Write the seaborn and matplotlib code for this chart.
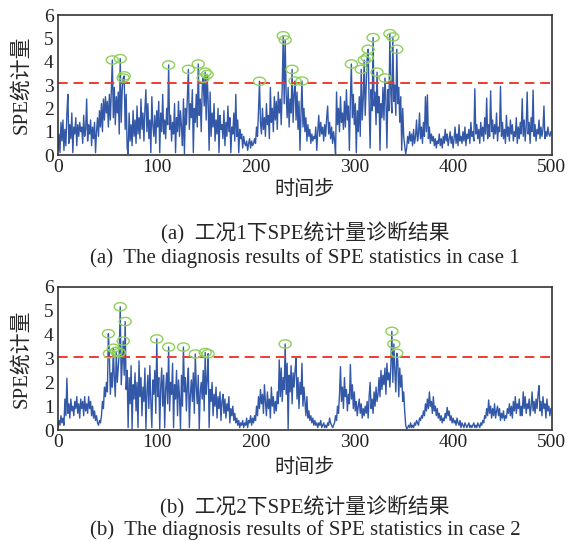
import numpy as np
import pandas as pd
import matplotlib
matplotlib.use("Agg")
import matplotlib.pyplot as plt
import seaborn as sns
from matplotlib.path import Path
from matplotlib.transforms import Affine2D

# SPE statistic, case 1 (steps 0..499)
spe_case1 = [
    0.2, 0.9, 0.1, 1.4, 0.6, 1.5, 0.2, 1.1, 0.4, 1.8,
    2.6, 0.5, 1.3, 0.7, 1.8, 0.1, 1.2, 0.9, 1.6, 0.4,
    1.3, 0.8, 1.4, 1.0, 1.2, 0.5, 1.7, 0.8, 1.1, 2.4,
    0.6, 1.3, 0.9, 1.5, 0.4, 1.2, 0.7, 1.4, 0.1, 1.0,
    1.6, 0.8, 1.9, 1.2, 2.2, 1.0, 2.4, 1.5, 2.5, 1.8,
    2.3, 1.2, 2.6, 1.5, 2.8, 4.07, 1.6, 2.9, 1.3, 2.5,
    1.8, 2.7, 0.9, 4.13, 1.4, 2.8, 3.3, 3.39, 1.1, 2.6,
    0.3, 0.05, 1.8, 0.6, 1.3, 0.4, 1.9, 0.8, 1.5, 0.5,
    2.1, 0.9, 1.6, 0.7, 2.4, 1.1, 1.8, 0.6, 2.0, 2.8,
    1.0, 2.2, 0.7, 1.5, 0.1, 2.5, 1.3, 0.8, 1.7, 0.5,
    1.9, 1.2, 2.3, 0.1, 1.8, 1.0, 2.6, 0.9, 1.5, 0.7,
    2.0, 1.3, 3.86, 1.1, 1.7, 0.6, 1.4, 0.9, 2.2, 0.1,
    1.6, 1.0, 2.3, 0.8, 1.9, 1.2, 0.4, 2.4, 0.05, 2.0,
    1.3, 2.5, 3.67, 1.1, 2.2, 1.6, 2.8, 0.1, 2.0, 1.4,
    2.6, 1.2, 3.9, 1.7, 2.4, 1.0, 2.9, 3.3, 2.1, 3.55,
    1.5, 3.45, 2.3, 0.2, 2.7, 0.8, 1.8, 1.2, 2.2, 0.6,
    1.5, 0.9, 2.0, 0.1, 1.7, 1.1, 1.3, 0.7, 1.9, 0.4,
    1.4, 0.8, 2.1, 1.0, 1.6, 0.1, 1.2, 0.9, 1.8, 0.6,
    2.6, 0.8, 1.5, 0.1, 1.1, 0.7, 0.9, 0.3, 0.8, 0.5,
    0.4, 0.6, 0.2, 0.5, 0.7, 0.3, 0.6, 0.4, 0.5, 0.7,
    0.5, 1.2, 0.8, 1.9, 3.16, 1.4, 0.9, 2.0, 1.1, 1.6,
    0.8, 2.2, 1.3, 1.7, 0.7, 2.9, 1.4, 2.0, 1.0, 2.5,
    1.5, 2.3, 1.1, 2.7, 1.8, 2.4, 1.3, 2.9, 5.11, 2.2,
    4.93, 2.6, 1.6, 2.9, 1.2, 2.4, 1.8, 3.67, 1.4, 2.6,
    3.17, 1.5, 2.7, 1.1, 2.3, 0.2, 1.8, 3.17, 1.2, 2.0,
    1.0, 1.6, 0.6, 1.3, 0.8, 1.1, 0.5, 0.9, 0.6, 0.8,
    0.7, 1.2, 0.2, 1.0, 1.7, 0.8, 1.4, 0.9, 1.2, 0.6,
    1.3, 0.8, 1.6, 2.1, 0.9, 1.4, 0.7, 1.2, 0.5, 1.0,
    0.6, 0.05, 2.7, 1.3, 2.0, 1.0, 2.5, 1.4, 1.8, 1.1,
    2.3, 1.2, 2.8, 1.5, 2.1, 0.2, 2.4, 3.9, 1.6, 2.6,
    1.3, 2.2, 0.1, 1.9, 1.0, 2.5, 0.8, 3.67, 1.5, 2.4,
    4.07, 1.7, 2.9, 4.17, 4.53, 2.2, 0.3, 2.8, 1.9, 5.03,
    2.1, 2.7, 1.3, 3.55, 1.8, 2.5, 0.2, 2.2, 1.6, 2.9,
    1.5, 3.3, 2.4, 0.3, 2.8, 1.9, 5.2, 2.6, 1.8, 5.06,
    2.3, 3.0, 1.7, 4.53, 2.2, 2.9, 1.4, 2.5, 0.2, 2.0,
    0.8, 0.4, 0.05, 0.3, 0.8, 0.5, 1.0, 0.6, 0.9, 0.4,
    1.1, 0.5, 0.8, 1.5, 0.6, 0.9, 1.8, 0.7, 1.2, 0.5,
    1.4, 0.8, 2.5, 1.0, 2.58, 0.7, 1.2, 0.5, 0.9, 0.6,
    0.8, 0.4, 0.7, 0.3, 0.6, 0.5, 0.9, 0.4, 0.7, 0.3,
    0.8, 0.5, 1.1, 0.6, 0.9, 0.4, 0.7, 1.0, 0.5, 0.8,
    0.3, 0.7, 1.2, 0.5, 0.9, 0.4, 1.3, 0.6, 0.8, 0.5,
    1.0, 0.6, 1.2, 0.4, 0.9, 0.7, 1.1, 0.5, 1.4, 0.8,
    1.0, 0.6, 2.84, 0.9, 1.3, 0.7, 1.1, 0.5, 1.4, 0.8,
    1.2, 0.6, 1.6, 0.9, 2.44, 0.7, 1.3, 0.8, 2.75, 1.0,
    1.5, 0.7, 1.3, 0.9, 1.8, 0.6, 1.2, 1.0, 2.94, 0.8,
    1.4, 0.7, 1.1, 0.5, 1.7, 0.8, 1.2, 0.6, 1.5, 0.9,
    1.3, 0.6, 1.0, 0.8, 1.6, 0.5, 1.2, 0.7, 1.4, 0.9,
    2.41, 0.8, 1.5, 0.6, 1.2, 2.7, 0.9, 1.4, 0.5, 1.6,
    1.0, 2.78, 0.8, 1.3, 0.6, 1.1, 0.9, 1.5, 0.7, 1.2,
    0.8, 1.1, 2.1, 0.7, 1.0, 0.8, 1.2, 0.9, 0.8, 1.0,
]

# SPE statistic, case 2
spe_case2 = [
    0.1, 0.4, 0.2, 0.6, 0.3, 0.5, 0.2, 1.3, 0.6, 2.17,
    0.7, 1.1, 0.5, 1.3, 0.8, 1.0, 0.6, 1.2, 0.9, 1.4,
    0.7, 1.1, 0.5, 1.3, 0.9, 1.2, 0.6, 1.4, 0.8, 1.1,
    0.7, 1.4, 0.9, 1.2, 0.6, 1.0, 0.5, 0.8, 0.4, 0.6,
    0.3, 0.2, 0.4, 0.3, 0.6, 1.2, 0.9, 1.8, 1.4, 2.0,
    1.6, 4.04, 3.2, 1.5, 2.4, 1.8, 3.43, 2.2, 1.4, 3.3,
    2.0, 2.6, 3.25, 5.17, 1.9, 2.8, 3.73, 2.3, 4.55, 1.7,
    2.5, 0.1, 2.2, 1.1, 2.7, 0.05, 1.9, 1.3, 2.4, 0.8,
    2.0, 0.1, 2.9, 1.4, 2.2, 0.6, 1.8, 1.2, 2.6, 0.05,
    1.6, 2.3, 0.9, 2.7, 1.2, 0.1, 2.1, 1.5, 2.5, 0.7,
    3.82, 1.4, 2.2, 0.05, 1.8, 2.6, 1.0, 2.3, 0.1, 1.7,
    2.4, 1.1, 3.48, 0.8, 2.0, 1.5, 2.8, 0.1, 1.9, 1.3,
    2.5, 0.6, 2.1, 1.4, 0.05, 2.3, 1.0, 3.48, 1.6, 2.2,
    0.8, 1.9, 2.6, 0.1, 1.5, 2.1, 1.2, 2.4, 0.7, 3.19,
    1.8, 1.1, 2.3, 0.05, 1.6, 2.0, 1.3, 2.5, 0.8, 3.25,
    1.5, 2.1, 3.2, 0.1, 1.7, 1.2, 2.0, 0.6, 1.5, 1.0,
    1.8, 0.5, 1.4, 0.9, 1.6, 0.4, 1.2, 1.5, 0.7, 1.3,
    0.5, 1.1, 0.8, 1.4, 0.3, 0.9, 0.6, 1.0, 0.4, 0.7,
    0.3, 0.5, 0.2, 0.4, 0.1, 0.3, 0.2, 0.4, 0.1, 0.3,
    0.2, 0.5, 0.1, 0.4, 0.3, 0.6, 0.2, 0.5, 0.3, 0.6,
    0.4, 1.0, 0.6, 1.4, 0.9, 1.7, 1.1, 1.5, 0.7, 1.9,
    1.2, 0.6, 1.6, 0.9, 1.3, 0.5, 1.8, 1.0, 1.4, 0.7,
    1.2, 0.8, 1.6, 1.1, 2.94, 1.4, 2.6, 1.2, 2.2, 1.7,
    3.61, 1.5, 2.8, 0.05, 2.3, 1.6, 2.7, 1.1, 2.4, 1.8,
    2.5, 3.0, 1.3, 2.2, 0.9, 2.0, 1.5, 2.8, 1.0, 1.8,
    1.2, 0.6, 1.4, 0.5, 0.8, 0.4, 0.6, 0.3, 0.5, 0.2,
    0.4, 0.2, 0.3, 0.1, 0.3, 0.2, 0.4, 0.1, 0.2, 0.3,
    0.1, 0.2, 0.1, 0.3, 0.2, 0.5, 0.3, 0.2, 0.1, 0.2,
    0.3, 0.6, 0.4, 1.0, 0.7, 1.5, 2.66, 1.2, 1.8, 0.9,
    2.2, 1.4, 1.7, 0.8, 1.5, 1.1, 2.75, 1.3, 1.9, 0.9,
    1.6, 0.8, 1.2, 0.6, 1.0, 1.3, 0.7, 1.1, 0.5, 0.9,
    0.6, 1.0, 0.7, 1.2, 0.5, 1.4, 2.0, 0.9, 1.3, 0.7,
    1.6, 1.0, 1.8, 1.2, 1.5, 2.2, 1.4, 2.5, 1.7, 2.3,
    1.9, 2.6, 1.5, 2.8, 2.1, 2.4, 1.8, 2.7, 4.14, 2.0,
    3.61, 2.5, 1.6, 3.22, 2.9, 1.4, 2.6, 1.8, 2.3, 1.2,
    1.6, 0.8, 0.2, 0.05, 0.1, 0.2, 0.1, 0.3, 0.1, 0.2,
    0.1, 0.3, 0.2, 0.4, 0.3, 0.2, 0.5, 0.4, 0.6, 0.5,
    0.8, 0.6, 1.1, 0.8, 1.3, 0.9, 1.6, 1.0, 1.2, 0.7,
    1.4, 0.8, 1.0, 0.6, 0.9, 0.5, 0.7, 0.4, 0.6, 0.3,
    0.5, 0.4, 0.7, 0.5, 0.95, 0.6, 0.8, 0.4, 0.6, 0.3,
    0.5, 0.3, 0.4, 0.2, 0.5, 0.3, 0.2, 0.4, 0.1, 0.3,
    0.2, 0.1, 0.3, 0.2, 0.1, 0.2, 0.3, 0.1, 0.2, 0.1,
    0.2, 0.3, 0.1, 0.2, 0.1, 0.3, 0.2, 0.1, 0.3, 0.2,
    0.4, 0.3, 0.6, 0.5, 0.9, 0.6, 1.26, 0.7, 1.0, 0.5,
    0.9, 0.6, 1.1, 0.5, 0.8, 1.0, 0.6, 0.9, 0.4, 0.7,
    0.5, 0.8, 0.4, 0.6, 0.5, 0.9, 0.7, 1.1, 0.6, 1.0,
    0.5, 1.2, 0.8, 1.4, 0.7, 1.1, 0.9, 1.3, 0.6, 1.0,
    0.6, 1.6, 0.9, 1.4, 0.7, 1.1, 0.9, 1.3, 0.6, 1.0,
    1.6, 0.8, 1.2, 0.7, 1.3, 0.9, 1.5, 1.86, 0.8, 1.2,
    0.6, 1.4, 0.9, 1.1, 0.5, 1.3, 0.8, 1.0, 0.6, 0.9,
]

threshold_case1 = 3.1
threshold_case2 = 3.08
xticks = [0, 100, 200, 300, 400, 500]
yticks = [0, 1, 2, 3, 4, 5, 6]
xlabel = "时间步"
ylabel = "SPE统计量"
captions = [
    ("(a)  工况1下SPE统计量诊断结果", "(a)  The diagnosis results of SPE statistics in case 1"),
    ("(b)  工况2下SPE统计量诊断结果", "(b)  The diagnosis results of SPE statistics in case 2"),
]

sns.set_theme(style="white")
plt.rcParams["font.family"] = ["Liberation Serif", "Noto Sans CJK SC"]
plt.rcParams["axes.unicode_minus"] = False

line_color = "#3358a8"
red = "#f03a32"
green = "#8dd15a"

ellipse = Path.unit_circle().transformed(Affine2D().scale(1.45, 1.0))

fig = plt.figure(figsize=(5.67, 5.42), dpi=100)
ax_pos = [[0.1023, 0.714, 0.871, 0.2583], [0.1023, 0.2066, 0.871, 0.2639]]
label_y = [(1 - 190 / 542, 1 - 233 / 542, 1 - 258 / 542),
           (1 - 468 / 542, 1 - 507 / 542, 1 - 530 / 542)]

for i, (vals, thr) in enumerate([(spe_case1, threshold_case1), (spe_case2, threshold_case2)]):
    ax = fig.add_axes(ax_pos[i])
    df = pd.DataFrame({"step": np.arange(len(vals)), "spe": vals})
    sns.lineplot(data=df, x="step", y="spe", ax=ax, color=line_color,
                 linewidth=1.0, errorbar=None)
    ax.axhline(thr, color=red, linestyle=(0, (5, 3)), linewidth=1.4)
    over = df[df["spe"] > thr]
    sns.scatterplot(data=over, x="step", y="spe", ax=ax, marker=ellipse, s=75,
                    facecolors="none", edgecolor=green, linewidth=1.0, zorder=5)
    ax.set_xlim(0, 500)
    ax.set_ylim(0, 6)
    ax.set_xticks(xticks)
    ax.set_yticks(yticks)
    ax.set_xlabel("")
    ax.set_ylabel(ylabel, fontsize=15, labelpad=9)
    ax.tick_params(direction="in", length=4, width=1, labelsize=14, pad=3,
                   colors="#222222")
    for sp in ax.spines.values():
        sp.set_color("#333333")
        sp.set_linewidth(1.2)
    cx = 305 / 567
    fig.text(cx, label_y[i][0], xlabel, ha="center", va="center", fontsize=14.5)
    fig.text(cx, label_y[i][1], captions[i][0], ha="center", va="center", fontsize=15)
    fig.text(cx, label_y[i][2], captions[i][1], ha="center", va="center", fontsize=15)

fig.savefig("out.png", dpi=100)
